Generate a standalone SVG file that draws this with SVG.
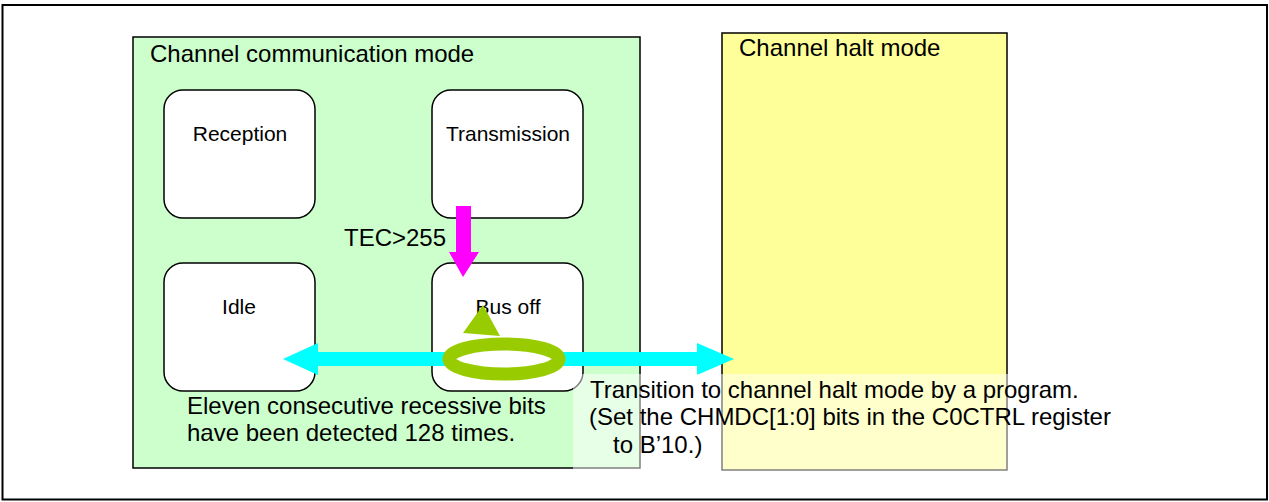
<svg xmlns="http://www.w3.org/2000/svg" width="1269" height="502" viewBox="0 0 1269 502">
<style>
text{font-family:"Liberation Sans",Arial,sans-serif;fill:#000}
.big{font-size:24px}
.lbl{font-size:21px;text-anchor:middle}
.node{fill:#fff;stroke:#000;stroke-width:1.5}
</style>
<rect x="0" y="0" width="1269" height="502" fill="#fff"/>
<rect x="2.5" y="5" width="1264.5" height="494.5" fill="#fff" stroke="#000" stroke-width="2"/>
<g id="comm-mode">
<rect x="133" y="37" width="507" height="431" fill="#ccffcc" stroke="#000" stroke-width="1.5"/>
<text class="big" x="150" y="62">Channel communication mode</text>
</g>
<g id="halt-mode">
<rect x="722" y="33" width="285" height="437" fill="#ffff99" stroke="#000" stroke-width="1.5"/>
<text class="big" x="739" y="56">Channel halt mode</text>
</g>
<g id="reception">
<rect class="node" x="164" y="90" width="151" height="128" rx="19"/>
<text class="lbl" x="240" y="141">Reception</text>
</g>
<g id="transmission">
<rect class="node" x="432" y="90" width="151" height="128" rx="19"/>
<text class="lbl" x="508" y="141">Transmission</text>
</g>
<g id="idle">
<rect class="node" x="164" y="263" width="151" height="128" rx="19"/>
<text class="lbl" x="239" y="314">Idle</text>
</g>
<g id="busoff">
<rect class="node" x="432" y="263" width="151" height="128" rx="19"/>
<text class="lbl" x="508" y="314">Bus off</text>
</g>
<g id="connectors">
<polygon points="456,206 471,206 471,252 479,252 463,277 449,252 456,252" fill="#ff00ff"/>
<polygon points="283,359 318,343 318,352 697,352 697,343 734,359 697,375 697,366 318,366 318,375" fill="#00ffff"/>
<ellipse cx="504" cy="359" rx="55" ry="15" fill="#fff" stroke="#99cc00" stroke-width="13"/>
<polygon points="483,305 463,333 500,336" fill="#99cc00"/>
</g>
<g id="labels">
<text class="big" x="344" y="246">TEC&gt;255</text>
<text class="big" x="187" y="414">Eleven consecutive recessive bits</text>
<text class="big" x="187" y="441">have been detected 128 times.</text>
<rect x="573" y="374" width="530" height="98" fill="#fff" fill-opacity="0.5"/>
<text class="big" x="590" y="398">Transition to channel halt mode by a program.</text>
<text class="big" x="589" y="425">(Set the CHMDC[1:0] bits in the C0CTRL register</text>
<text class="big" x="613" y="453">to B’10.)</text>
</g>
</svg>
